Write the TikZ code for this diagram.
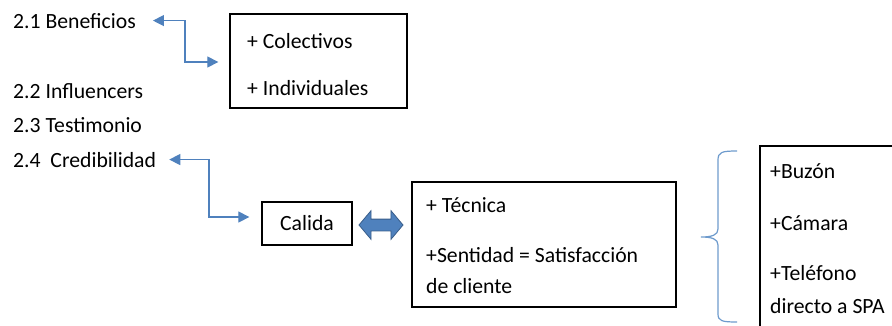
\documentclass[tikz,border=0pt]{standalone}
\usepackage{fontspec}
\setmainfont{Carlito}
\usetikzlibrary{arrows.meta,shapes.arrows}
\definecolor{linkblue}{RGB}{79,129,189}
\definecolor{linkedge}{RGB}{56,93,138}
\definecolor{braceblue}{RGB}{110,155,205}
\begin{document}
\begin{tikzpicture}[x=1pt,y=-1pt,
    every node/.style={font=\fontsize{21.7}{25}\selectfont},
    item/.style={anchor=base west,inner sep=0pt},
    frame/.style={draw,line width=1.3pt,inner sep=0pt},
    link/.style={draw=linkblue,line width=1.2pt,
        {Triangle[length=11pt,width=11pt]}-{Triangle[length=11pt,width=11pt]}}]
  \clip (0,0) rectangle (892,325);
  % list on the left
  \node[item] (b21) at (13,28) {2.1 Beneficios};
  \node[item] (b22) at (13,98) {2.2 Influencers};
  \node[item] (b23) at (13,132) {2.3 Testimonio};
  \node[item] (b24) at (13,167) {2.4\ \ Credibilidad};
  % boxes
  \node[frame,minimum width=177,minimum height=94] (tipos) at (318.5,61) {};
  \node[item] (colect) at (247,48) {+ Colectivos};
  \node[item] (indiv) at (247,95) {+ Individuales};
  \node[frame,minimum width=90,minimum height=43] (calida) at (307,223.5) {Calida};
  \node[frame,minimum width=264,minimum height=125] (tecnica) at (544,244.5) {};
  \node[item] (tec) at (426,212) {+ Técnica};
  \node[item] (sent) at (426,262) {+Sentidad = Satisfacción};
  \node[item] (clie) at (426,293) {de cliente};
  \node[frame,minimum width=200,minimum height=254] (medios) at (860,273) {};
  \node[item] (buzon) at (770,178) {+Buzón};
  \node[item] (camara) at (770,230) {+Cámara};
  \node[item] (telef) at (770,280) {+Teléfono};
  \node[item] (spa) at (770,313) {directo a SPA};
  % connectors
  \coordinate (k1) at (185,62);
  \coordinate (k2) at (209,217);
  \draw[link,shorten <=17pt,shorten >=11pt] (b21.east) -| (k1) -- (k1 -| tipos.west);
  \draw[link,shorten <=13pt,shorten >=12pt] (b24.east) -| (k2) -- (k2 -| calida.west);
  \node[double arrow,draw=linkedge,fill=linkblue,line width=0.8pt,
        minimum height=44pt,minimum width=28pt,inner sep=5.5pt,
        double arrow head extend=8.5pt,double arrow tip angle=100] (dbl) at (381,225) {};
  % brace
  \draw[braceblue,line width=1.2pt]
    (737,151) .. controls (722,151) and (718,152) .. (718,160) -- (718,229)
    .. controls (718,235) and (712,237) .. (701,237)
    .. controls (712,237) and (718,239) .. (718,245) -- (718,314)
    .. controls (718,321) and (722,322) .. (737,322);
\end{tikzpicture}
\end{document}
